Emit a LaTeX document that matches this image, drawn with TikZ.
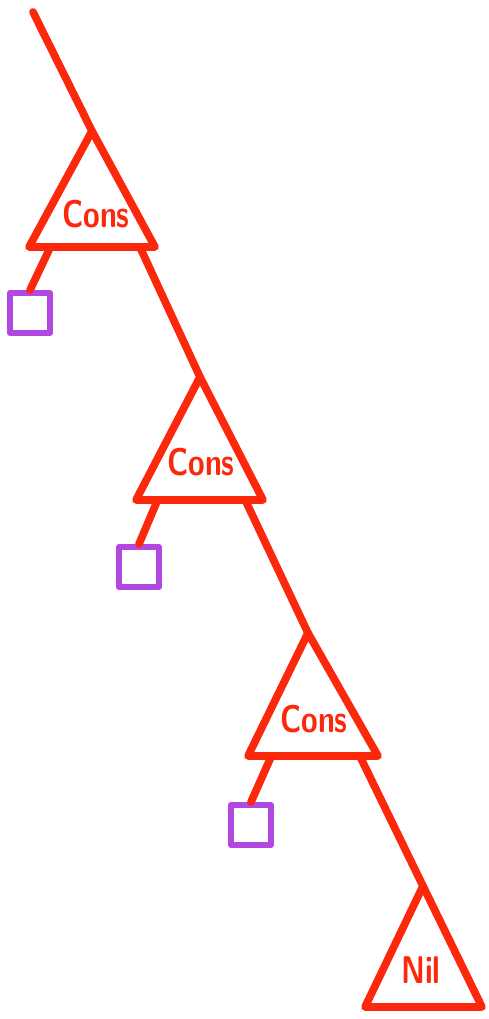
\documentclass[tikz,border=0pt]{standalone}
\usepackage{xcolor}
\usepackage{tikz}
\usetikzlibrary{positioning,calc}
\definecolor{pen}{RGB}{252,40,12}
\definecolor{box}{RGB}{178,72,226}
\newcommand{\hand}[1]{\scalebox{0.78}[1]{#1}}

\begin{document}
\begin{tikzpicture}[x=0.02cm, y=-0.02cm, line join=round, line cap=round,
    tri/.style={draw=pen, line width=4.4pt},
    leaf/.style={draw=box, line width=3.4pt, minimum size=0.8cm, inner sep=0pt},
    lbl/.style={text=pen, font=\sffamily\bfseries\fontsize{22}{26}\selectfont, inner sep=0pt}]
  \useasboundingbox (0,0) rectangle (488,1019);
  % root pointer
  \coordinate (root) at (33,12);
  % first cell
  \coordinate (a1) at (92,131);  \coordinate (l1) at (29,247);  \coordinate (r1) at (155,247);
  \node[lbl] (cons1) at (96,214) {\hand{Cons}};
  \node[leaf] (sq1) at (30,313) {};
  % second cell
  \coordinate (a2) at (200,377); \coordinate (l2) at (136,500); \coordinate (r2) at (263,500);
  \node[lbl] (cons2) at (201,462) {\hand{Cons}};
  \node[leaf] (sq2) at (139,567) {};
  % third cell
  \coordinate (a3) at (308,633); \coordinate (l3) at (248,756); \coordinate (r3) at (378,756);
  \node[lbl] (cons3) at (314,719) {\hand{Cons}};
  \node[leaf] (sq3) at (251,825) {};
  % end of list
  \coordinate (a4) at (423,886); \coordinate (l4) at (365,1007); \coordinate (r4) at (482,1007);
  \node[lbl] (nil) at (421,970) {\hand{Nil}};

  \draw[tri] (a1) -- (l1) -- (r1) -- cycle;
  \draw[tri] (a2) -- (l2) -- (r2) -- cycle;
  \draw[tri] (a3) -- (l3) -- (r3) -- cycle;
  \draw[tri] (a4) -- (l4) -- (r4) -- cycle;

  \draw[tri] (root) -- (a1);
  \draw[tri] ($(l1)!0.17!(r1)$) -- (sq1.north);
  \draw[tri] ($(l1)!0.88!(r1)$) -- (a2);
  \draw[tri] ($(l2)!0.17!(r2)$) -- (sq2.north);
  \draw[tri] ($(l2)!0.86!(r2)$) -- (a3);
  \draw[tri] ($(l3)!0.18!(r3)$) -- (sq3.north);
  \draw[tri] ($(l3)!0.86!(r3)$) -- (a4);
\end{tikzpicture}
\end{document}
